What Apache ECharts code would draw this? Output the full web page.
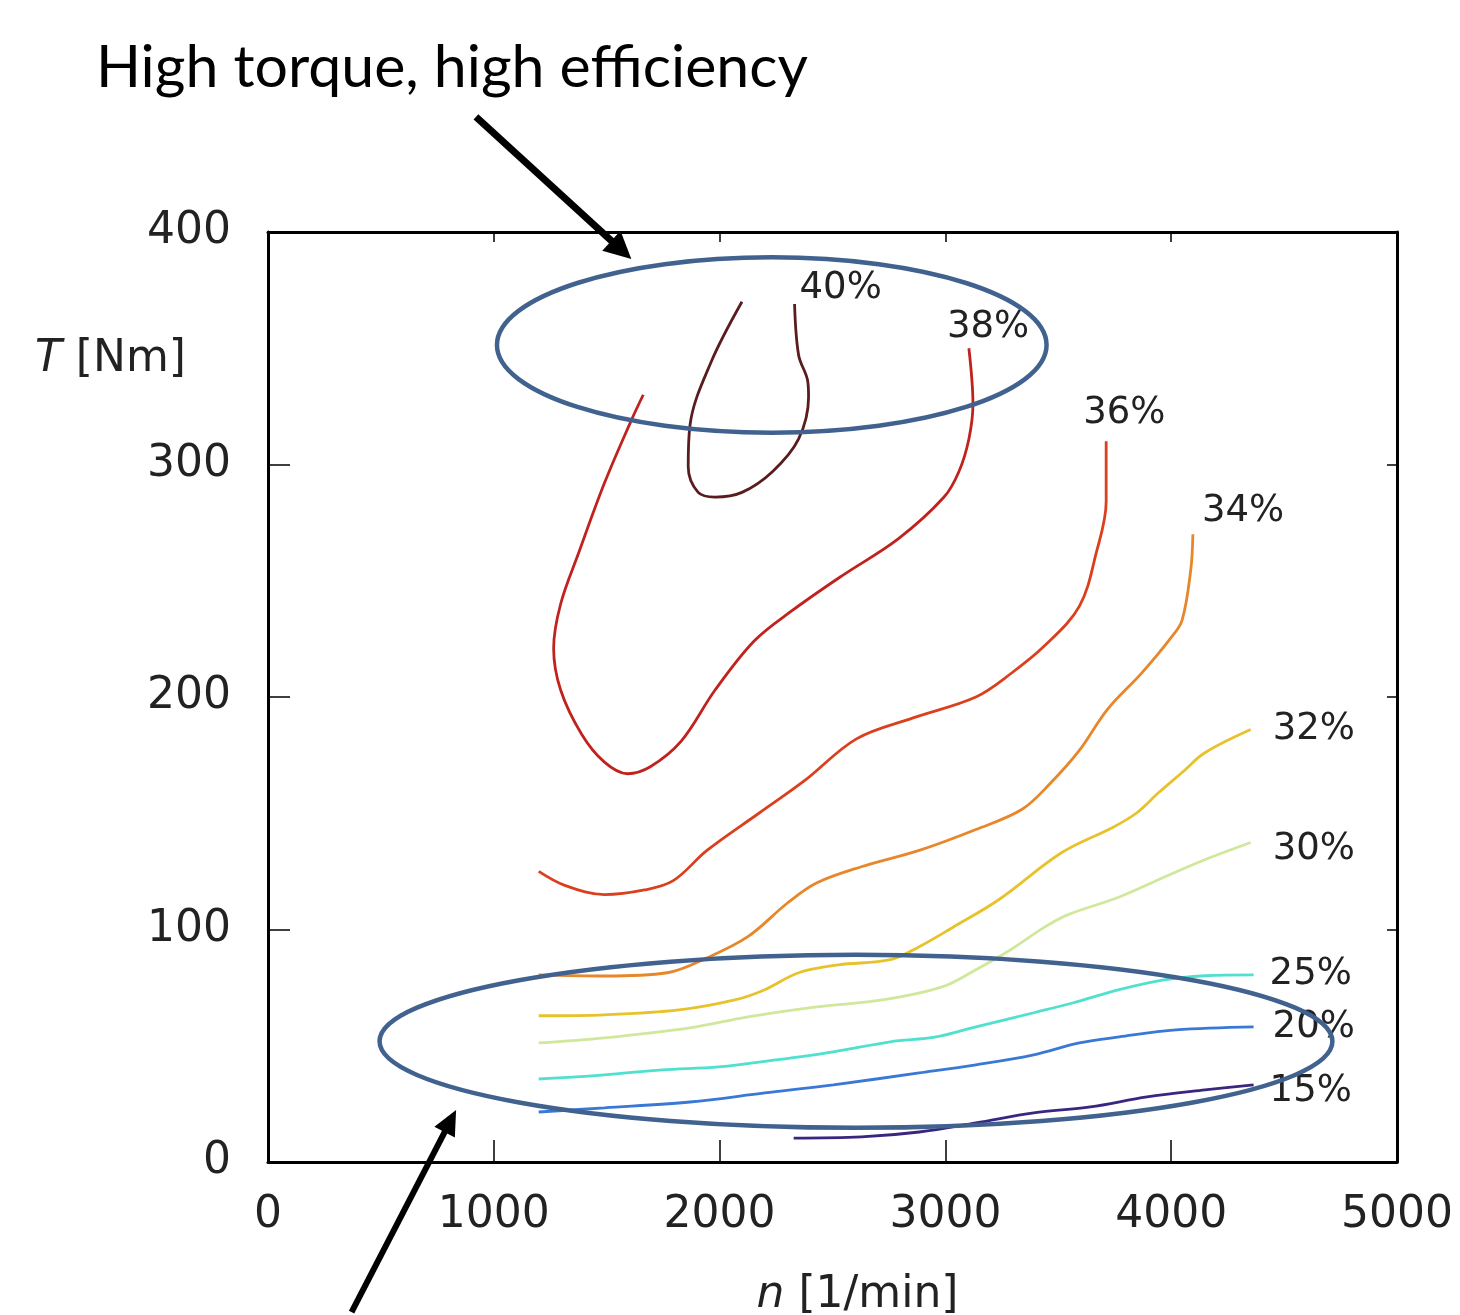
<!DOCTYPE html>
<html>
<head>
<meta charset="utf-8">
<script src="https://cdn.jsdelivr.net/npm/echarts@6/dist/echarts.min.js"></script>
<style>
html,body{margin:0;padding:0;background:#fff;}
#chart{width:1460px;height:1315px;}
</style>
</head>
<body>
<div id="chart"></div>
<script>
// ---- data (x: n [1/min], y: T [Nm]) ----
const xTicks = [0, 1000, 2000, 3000, 4000, 5000];
const yTicks = [0, 100, 200, 300, 400];
const levels = ['40%', '38%', '36%', '34%', '32%', '30%', '25%', '20%', '15%'];

const eff40 = [[2099,370],[1962,344],[1869,317],[1861,299],[1905,288],[1980,286],[2099,288],[2235,297],[2350,311],[2394,329],[2390,336],[2350,347],[2332,369]];
const eff38 = [[1662,330],[1609,319],[1490,292],[1376,262],[1296,240],[1265,221],[1296,203],[1389,184],[1490,172],[1592,167],[1693,170],[1830,181],[1980,203],[2152,224],[2319,237],[2540,252],[2791,268],[2994,286],[3060,297],[3104,311],[3122,326],[3104,350]];
const eff36 = [[1199,125],[1314,119],[1490,115],[1667,117],[1795,121],[1944,134],[2174,150],[2376,164],[2606,182],[2857,191],[3135,200],[3289,210],[3439,222],[3593,239],[3668,262],[3712,284],[3712,310]];
const eff34 = [[1199,80.5],[1490,80],[1768,81.4],[1944,87.8],[2125,96.9],[2302,111.5],[2429,120],[2628,127],[2884,134],[3135,143],[3338,151.6],[3466,163],[3593,177],[3717,194.6],[3871,210.5],[3995,225],[4048,233],[4087,255],[4096,270]];
const eff32 = [[1199,62.9],[1490,63.3],[1821,65.4],[2072,69.8],[2200,74.1],[2350,81.4],[2526,84.8],[2756,87],[2884,92.6],[3034,101],[3236,112.8],[3514,133],[3743,144],[3845,150],[3946,159],[4048,167.5],[4149,176],[4352,186]];
const eff30 = [[1199,51.2],[1490,53.4],[1869,57.7],[2125,62.4],[2429,66.7],[2729,69.8],[2985,75.3],[3135,82.7],[3289,91.3],[3439,101],[3541,106.3],[3770,114],[3973,122.7],[4149,130],[4352,137.4]];
const eff25 = [[1199,35.7],[1490,37.5],[1746,39.6],[1997,40.9],[2249,43.9],[2504,47.4],[2756,51.7],[2959,53.8],[3135,58.1],[3391,64.2],[3567,68.5],[3770,74.1],[3973,78.4],[4149,80.1],[4365,80.5]];
const eff20 = [[1199,21.5],[1490,23.3],[1869,25.8],[2200,29.7],[2504,33.2],[2884,38.3],[3135,41.8],[3391,46.1],[3593,51.2],[3770,53.8],[4021,56.8],[4365,58.1]];
const eff15 = [[2328,10.3],[2628,10.8],[2884,12.9],[3135,16.8],[3391,21.1],[3642,23.7],[3893,28],[4149,31],[4365,33.2]];

// annotations in data coordinates
const ellipseTop = {cx: 2231, cy: 351.4, rx: 1217, ry: 37.7};
const ellipseBottom = {cx: 2604, cy: 51.9, rx: 2110, ry: 37.2};
const arrowTop = [[921, 449.5], [1609, 388.4]];
const arrowBottom = [[370, -64.6], [833, 22.4]];

const titleText = 'High torque, high efficiency';

// ---- styling ----
const colors = ['#5a1c1e', '#c0221e', '#da401e', '#e8862a', '#e8c22a', '#cfe89c', '#4fe0cf', '#3a78d6', '#3a2680'];
const labelOffsets = [[5,-16],[-22,-21],[-23,-28],[9,-23],[22,0],[22,7],[16,0],[19,0],[16,7]];
const seriesData = [eff40, eff38, eff36, eff34, eff32, eff30, eff25, eff20, eff15];

const font = 'DejaVu Sans';
const chart = echarts.init(document.getElementById('chart'), null, {renderer: 'canvas'});

const series = seriesData.map((d, i) => ({
  type: 'line',
  name: levels[i],
  data: d,
  xAxisIndex: 0, yAxisIndex: 0,
  showSymbol: false,
  smooth: 0.35,
  lineStyle: {color: colors[i], width: 2.8},
  itemStyle: {color: colors[i]},
  endLabel: {
    show: true,
    formatter: levels[i],
    distance: 0,
    offset: labelOffsets[i],
    align: 'left',
    verticalAlign: 'middle',
    fontFamily: font,
    fontSize: 37,
    color: '#222'
  },
  z: 3
}));

const axisLineStyle = {color: '#000', width: 3};
const plain = v => String(v);

chart.setOption({
  animation: false,
  backgroundColor: '#fff',
  title: [
    {text: titleText, left: 91, top: 33,
     textStyle: {fontFamily: 'Lato', fontWeight: 'normal', fontSize: 59, color: '#000'}},
    {text: '{i|T} [Nm]', left: 30, top: 333,
     textStyle: {fontFamily: font, fontWeight: 'normal', fontSize: 44, color: '#222',
       rich: {i: {fontStyle: 'italic', fontFamily: font, fontSize: 44, color: '#222'}}}}
  ],
  grid: {left: 268, right: 63, top: 232, bottom: 153, containLabel: false, outerBoundsMode: 'none'},
  xAxis: [
    {type: 'value', min: xTicks[0], max: xTicks[xTicks.length - 1], interval: 1000, position: 'bottom',
     name: '{i|n} [1/min]', nameLocation: 'middle', nameGap: 112,
     nameTextStyle: {fontFamily: font, fontSize: 44, color: '#222', padding: [0, 0, 0, 50],
       rich: {i: {fontStyle: 'italic', fontFamily: font, fontSize: 44, color: '#222'}}},
     axisLine: {show: true, onZero: false, lineStyle: axisLineStyle},
     axisTick: {show: true, inside: true, length: 22, lineStyle: {color: '#000', width: 1.5}},
     axisLabel: {margin: 32, fontFamily: font, fontSize: 44, color: '#222', formatter: plain},
     splitLine: {show: false}},
    {type: 'value', min: xTicks[0], max: xTicks[xTicks.length - 1], interval: 1000, position: 'top',
     axisLine: {show: true, onZero: false, lineStyle: axisLineStyle},
     axisTick: {show: true, inside: true, length: 10, lineStyle: {color: '#000', width: 1.5}},
     axisLabel: {show: false}, splitLine: {show: false}}
  ],
  yAxis: [
    {type: 'value', min: yTicks[0], max: yTicks[yTicks.length - 1], interval: 100, position: 'left',
     axisLine: {show: true, onZero: false, lineStyle: axisLineStyle},
     axisTick: {show: true, inside: true, length: 22, lineStyle: {color: '#000', width: 1.5}},
     axisLabel: {margin: 37, fontFamily: font, fontSize: 44, color: '#222', formatter: plain},
     splitLine: {show: false}},
    {type: 'value', min: yTicks[0], max: yTicks[yTicks.length - 1], interval: 100, position: 'right',
     axisLine: {show: true, onZero: false, lineStyle: axisLineStyle},
     axisTick: {show: true, inside: true, length: 10, lineStyle: {color: '#000', width: 1.5}},
     axisLabel: {show: false}, splitLine: {show: false}}
  ],
  series: series
});

// ---- annotations (ellipses and arrows), placed via axis scales ----
function px(p) { return chart.convertToPixel({xAxisIndex: 0, yAxisIndex: 0}, p); }
function ellipseEl(e) {
  const c = px([e.cx, e.cy]);
  const r = px([e.cx + e.rx, e.cy + e.ry]);
  return {type: 'ellipse', z: 10,
    shape: {cx: c[0], cy: c[1], rx: Math.abs(r[0] - c[0]), ry: Math.abs(r[1] - c[1])},
    style: {fill: null, stroke: '#41628f', lineWidth: 4.5}};
}
function arrowEls(a, w, headLen, headW) {
  const p0 = px(a[0]), p1 = px(a[1]);
  const dx = p1[0] - p0[0], dy = p1[1] - p0[1];
  const L = Math.hypot(dx, dy), ux = dx / L, uy = dy / L;
  const bx = p1[0] - ux * headLen, by = p1[1] - uy * headLen;
  const nx = -uy, ny = ux;
  return [
    {type: 'line', z: 10, shape: {x1: p0[0], y1: p0[1], x2: bx + ux * 2, y2: by + uy * 2},
     style: {stroke: '#000', lineWidth: w}},
    {type: 'polygon', z: 10,
     shape: {points: [[p1[0], p1[1]], [bx + nx * headW / 2, by + ny * headW / 2], [bx - nx * headW / 2, by - ny * headW / 2]]},
     style: {fill: '#000'}}
  ];
}
chart.setOption({
  graphic: [ellipseEl(ellipseTop), ellipseEl(ellipseBottom)]
    .concat(arrowEls(arrowTop, 7, 27, 27))
    .concat(arrowEls(arrowBottom, 6, 25, 23))
});
</script>
</body>
</html>
